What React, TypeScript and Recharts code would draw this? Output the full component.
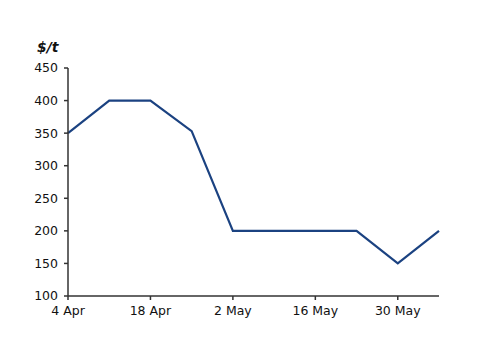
import React, { useEffect } from 'react';
import { LineChart, Line, XAxis, YAxis } from 'recharts';

// weekly points, 4 Apr .. 6 Jun
const weeks = ['4 Apr', '11 Apr', '18 Apr', '25 Apr', '2 May', '9 May', '16 May', '23 May', '30 May', '6 Jun'];
const prices = [350, 400, 400, 353, 200, 200, 200, 200, 150, 200];
const xTicks = [0, 2, 4, 6, 8];
const yTicks = [100, 150, 200, 250, 300, 350, 400, 450];

const data = weeks.map((w, i) => ({ idx: i, label: w, price: prices[i] }));

const FONT = '"DejaVu Sans", sans-serif';
const AXIS = '#333';

export default function App() {
  useEffect(() => {
    document.body.style.margin = '0';
  }, []);

  return (
    <div style={{ position: 'relative', width: 500, height: 353, background: '#fff', fontFamily: FONT }}>
      <div style={{ position: 'absolute', left: 37, top: 39, fontSize: 14, fontWeight: 'bold', fontStyle: 'italic', color: '#111' }}>
        $/t
      </div>
      <LineChart width={500} height={353} data={data} margin={{ top: 68, right: 61, bottom: 27, left: 0 }}>
        <XAxis
          dataKey="idx"
          type="number"
          domain={[0, 9]}
          ticks={xTicks}
          tickFormatter={(v: number) => weeks[v]}
          height={30}
          tickSize={4}
          tickMargin={6}
          stroke={AXIS}
          strokeWidth={1.5}
          tick={{ fill: '#111', fontSize: 12.5, fontFamily: FONT }}
        />
        <YAxis
          type="number"
          domain={[100, 450]}
          ticks={yTicks}
          width={68}
          tickSize={4}
          tickMargin={6}
          stroke={AXIS}
          strokeWidth={1.5}
          tick={{ fill: '#111', fontSize: 12.5, fontFamily: FONT }}
        />
        <Line
          dataKey="price"
          type="linear"
          stroke="#1B4281"
          strokeWidth={2.2}
          dot={false}
          isAnimationActive={false}
        />
      </LineChart>
    </div>
  );
}
